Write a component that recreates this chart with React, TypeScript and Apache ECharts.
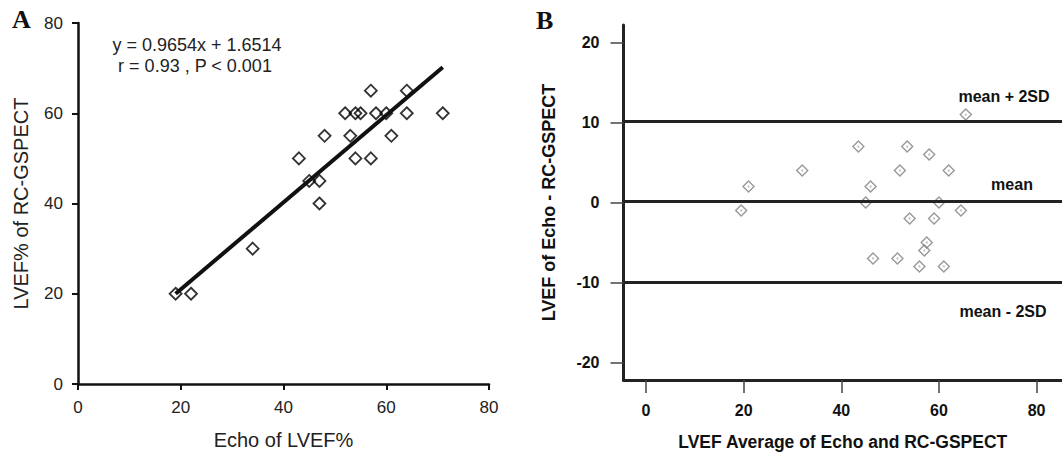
import React, { useEffect, useRef } from "react";
import * as echarts from "echarts";

// Panel A: Echo vs RC-GSPECT LVEF%
const echoLVEF = [19, 22, 34, 43, 45, 47, 47, 48, 52, 53, 54, 54, 55, 57, 57, 58, 60, 61, 64, 64, 71];
const gspectLVEF = [20, 20, 30, 50, 45, 45, 40, 55, 60, 55, 60, 50, 60, 65, 50, 60, 60, 55, 65, 60, 60];
const regressionX = [19, 71];
const regressionY = [20.0, 70.2];
const equationText = "y = 0.9654x + 1.6514";
const statsText = "r = 0.93 , P < 0.001";

// Panel B: Bland-Altman
const baAverage = [19.5, 21, 32, 43.5, 45, 46, 46.5, 51.5, 52, 53.5, 54, 56, 57, 57.5, 58, 59, 60, 61, 62, 64.5, 65.5];
const baDifference = [-1, 2, 4, 7, 0, 2, -7, -7, 4, 7, -2, -8, -6, -5, 6, -2, 0, -8, 4, -1, 11];
const limitValues = [10.2, 0.2, -10.0];
const limitLabels = ["mean + 2SD", "mean", "mean - 2SD"];
const bTicksX = [0, 20, 40, 60, 80];
const bTicksY = [-20, -10, 0, 10, 20];

const SANS = "'Liberation Sans', Arial, sans-serif";
const SERIF = "'Liberation Serif', 'Times New Roman', serif";

export default function App() {
  const ref = useRef<HTMLDivElement>(null);
  useEffect(() => {
    if (!ref.current) return;
    const chart = echarts.init(ref.current, undefined, { renderer: "svg" });
    const aData = echoLVEF.map((x, i) => [x, gspectLVEF[i]]);
    const regData = regressionX.map((x, i) => [x, regressionY[i]]);
    const bData = baAverage.map((x, i) => [x, baDifference[i]]);

    const option: any = {
      animation: false,
      backgroundColor: "#fff",
      grid: [
        { left: 78, top: 23, width: 411, height: 361 },
        { left: 623.5, top: 25, right: 0, height: 356 },
      ],
      xAxis: [
        {
          gridIndex: 0,
          type: "value",
          min: 0,
          max: 80,
          interval: 20,
          name: "Echo of LVEF%",
          nameLocation: "middle",
          nameGap: 46,
          nameTextStyle: { fontSize: 20, color: "#222", fontFamily: SANS },
          axisLine: { show: true, onZero: false, lineStyle: { color: "#111", width: 2.5 } },
          axisTick: { show: true, length: 6, lineStyle: { color: "#111", width: 2 } },
          axisLabel: { fontSize: 17, color: "#222", fontFamily: SANS, margin: 15 },
          splitLine: { show: false },
        },
        {
          gridIndex: 1,
          type: "value",
          min: -4.6,
          max: 85.2,
          name: "LVEF Average of Echo and RC-GSPECT",
          nameLocation: "middle",
          nameGap: 53,
          nameTextStyle: { fontSize: 17.5, fontWeight: "bold", color: "#111", fontFamily: SANS },
          axisLine: { show: true, onZero: false, lineStyle: { color: "#222", width: 3 } },
          axisTick: { show: true, customValues: bTicksX, length: 13, lineStyle: { color: "#444", width: 1.5 } },
          axisLabel: { customValues: bTicksX, fontSize: 16, fontWeight: "bold", color: "#111", fontFamily: SANS, margin: 22 },
          splitLine: { show: false },
        },
      ],
      yAxis: [
        {
          gridIndex: 0,
          type: "value",
          min: 0,
          max: 80,
          interval: 20,
          name: "LVEF% of RC-GSPECT",
          nameLocation: "middle",
          nameGap: 47,
          nameTextStyle: { fontSize: 20, color: "#222", fontFamily: SANS },
          axisLine: { show: true, onZero: false, lineStyle: { color: "#111", width: 2.5 } },
          axisTick: { show: true, length: 6, lineStyle: { color: "#111", width: 2 } },
          axisLabel: { fontSize: 17, color: "#222", fontFamily: SANS, margin: 15 },
          splitLine: { show: false },
        },
        {
          gridIndex: 1,
          type: "value",
          min: -22.2,
          max: 22.2,
          name: "LVEF of Echo - RC-GSPECT",
          nameLocation: "middle",
          nameGap: 66,
          nameTextStyle: { fontSize: 18, fontWeight: "bold", color: "#111", fontFamily: SANS },
          axisLine: { show: true, onZero: false, lineStyle: { color: "#222", width: 3 } },
          axisTick: { show: true, customValues: bTicksY, length: 13, lineStyle: { color: "#444", width: 1.5 } },
          axisLabel: { customValues: bTicksY, fontSize: 16, fontWeight: "bold", color: "#111", fontFamily: SANS, margin: 24 },
          splitLine: { show: false },
        },
      ],
      series: [
        {
          type: "scatter",
          xAxisIndex: 0,
          yAxisIndex: 0,
          data: aData,
          symbol: "diamond",
          symbolSize: 12,
          itemStyle: { color: "rgba(255,255,255,0)", borderColor: "#000", borderWidth: 1.8 },
          z: 2,
        },
        {
          type: "line",
          xAxisIndex: 0,
          yAxisIndex: 0,
          data: regData,
          symbol: "none",
          lineStyle: { color: "#111", width: 4 },
          z: 3,
        },
        {
          type: "scatter",
          xAxisIndex: 1,
          yAxisIndex: 1,
          data: bData,
          symbol: "diamond",
          symbolSize: 11,
          itemStyle: { color: "rgba(255,255,255,0)", borderColor: "#808080", borderWidth: 1.4 },
          z: 3,
          markLine: {
            silent: true,
            symbol: ["none", "none"],
            label: { show: false },
            lineStyle: { color: "#222", width: 3, type: "solid" },
            data: limitValues.map((v) => ({ yAxis: v })),
          },
        },
        {
          type: "scatter",
          xAxisIndex: 1,
          yAxisIndex: 1,
          data: bData,
          symbol: "circle",
          symbolSize: 2,
          itemStyle: { color: "#aaa" },
          z: 4,
        },
      ],
      graphic: [
        { type: "text", x: 12, y: 19, style: { text: "A", font: `bold 26px ${SERIF}`, fill: "#111", verticalAlign: "middle", align: "left" } },
        { type: "text", x: 536, y: 20, style: { text: "B", font: `bold 26px ${SERIF}`, fill: "#111", verticalAlign: "middle", align: "left" } },
        { type: "text", x: 197, y: 45, style: { text: equationText, font: `18px ${SANS}`, fill: "#222", align: "center", verticalAlign: "middle" } },
        { type: "text", x: 195, y: 66, style: { text: statsText, font: `18px ${SANS}`, fill: "#222", align: "center", verticalAlign: "middle" } },
        { type: "text", x: 1004, y: 96, style: { text: limitLabels[0], font: `bold 16px ${SANS}`, fill: "#111", align: "center", verticalAlign: "middle" } },
        { type: "text", x: 1012, y: 184, style: { text: limitLabels[1], font: `bold 16px ${SANS}`, fill: "#111", align: "center", verticalAlign: "middle" } },
        { type: "text", x: 1003, y: 311.5, style: { text: limitLabels[2], font: `bold 16px ${SANS}`, fill: "#111", align: "center", verticalAlign: "middle" } },
      ],
    };
    chart.setOption(option);
    return () => chart.dispose();
  }, []);
  return <div ref={ref} style={{ position: "fixed", left: 0, top: 0, width: 1062, height: 456 }} />;
}
